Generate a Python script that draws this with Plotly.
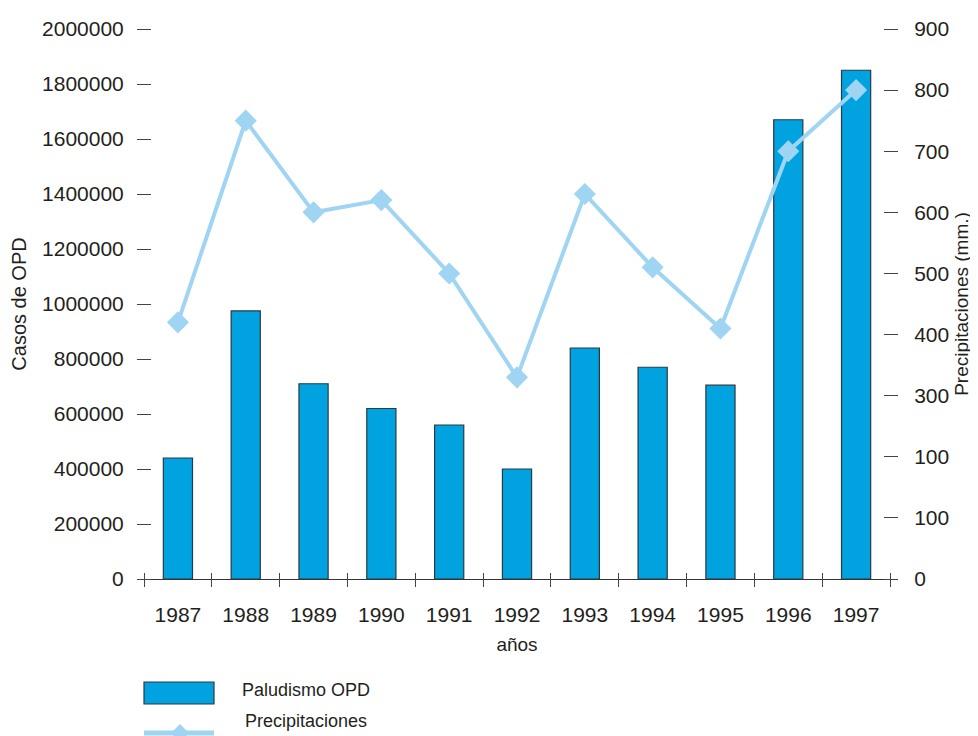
import plotly.graph_objects as go

years = [1987, 1988, 1989, 1990, 1991, 1992, 1993, 1994, 1995, 1996, 1997]
casos_opd = [440000, 975000, 710000, 620000, 560000, 400000, 840000, 770000, 705000, 1670000, 1850000]
precipitaciones = [420, 750, 600, 620, 500, 330, 630, 510, 410, 700, 800]

left_ticks = [0, 200000, 400000, 600000, 800000, 1000000, 1200000, 1400000, 1600000, 1800000, 2000000]
right_tickvals = [0, 100, 200, 300, 400, 500, 600, 700, 800, 900]
right_ticktext = ["0", "100", "100", "300", "400", "500", "600", "700", "800", "900"]
boundaries = [y - 0.5 for y in years] + [years[-1] + 0.5]

FONT = "Liberation Sans, Arial, sans-serif"
TXT = "#231f20"
TICKC = "#444444"
BAR_C = "#00a3e0"
LINE_C = "#9fd4f2"

PW, PH = 746, 550  # plot area size in px

fig = go.Figure()
fig.add_trace(go.Bar(x=years, y=casos_opd, name="Paludismo OPD", width=0.43,
                     marker=dict(color=BAR_C, line=dict(color="#2b3a42", width=1.2)),
                     xaxis="x", yaxis="y"))
fig.add_trace(go.Scatter(x=years, y=precipitaciones, name="Precipitaciones", mode="lines+markers",
                         line=dict(color=LINE_C, width=4),
                         marker=dict(symbol="diamond", size=17, color=LINE_C),
                         xaxis="x", yaxis="y2"))
# invisible trace so the tick-only x overlay axis renders
fig.add_trace(go.Scatter(x=[years[0]], y=[0], xaxis="x2", yaxis="y", mode="markers",
                         marker=dict(opacity=0), hoverinfo="skip", showlegend=False))

xr = [years[0] - 0.5, years[-1] + 0.5]
common = dict(showgrid=False, zeroline=False, automargin=False)
fig.update_layout(
    width=970, height=728,
    margin=dict(l=136, r=88, t=21, b=157),
    paper_bgcolor="white", plot_bgcolor="white",
    font=dict(family=FONT, color=TXT, size=21),
    showlegend=False,
    xaxis=dict(range=xr, tickvals=years, ticktext=[str(y) for y in years], ticks="",
               showline=True, linecolor="#333333", linewidth=1.2,
               ticklabelstandoff=17, tickfont=dict(size=21),
               title=dict(text="años", font=dict(size=19), standoff=12), **common),
    xaxis2=dict(range=xr, overlaying="x", anchor="free", position=7 / PH, tickvals=boundaries,
                ticks="outside", ticklen=14, tickcolor=TICKC, tickwidth=1.2,
                showticklabels=False, showline=False, **common),
    yaxis=dict(range=[0, 2000000], tickvals=left_ticks, tickformat="d", anchor="free",
               position=7 / PW, ticks="outside", ticklen=14, tickcolor=TICKC, tickwidth=1.2,
               ticklabelstandoff=9, showline=False, tickfont=dict(size=21),
               title=dict(text="Casos de OPD", font=dict(size=20), standoff=12), **common),
    yaxis2=dict(range=[0, 900], overlaying="y", side="right", anchor="free", position=1 - 7 / PW,
                tickvals=right_tickvals, ticktext=right_ticktext, ticks="outside", ticklen=14,
                tickcolor=TICKC, tickwidth=1.2, ticklabelstandoff=12, showline=False,
                tickfont=dict(size=21),
                title=dict(text="Precipitaciones (mm.)", font=dict(size=19), standoff=6), **common),
)

# manual legend below the plot
fig.add_shape(type="rect", xref="paper", yref="paper", x0=0.0, x1=70 / PW, y0=-(682 - 579) / PH,
              y1=-(704 - 579) / PH, fillcolor=BAR_C, line=dict(color="#2b3a42", width=1.2))
fig.add_annotation(xref="paper", yref="paper", x=(240 - 144) / PW, y=-(690 - 579) / PH,
                   text="Paludismo OPD", showarrow=False, xanchor="left", yanchor="middle",
                   font=dict(size=18))
fig.add_shape(type="line", xref="paper", yref="paper", x0=0.0, x1=70 / PW, y0=-(733 - 579) / PH,
              y1=-(733 - 579) / PH, line=dict(color=LINE_C, width=5))
fig.add_shape(type="path", xref="paper", yref="paper",
              path="M {a},{b} L {c},{d} L {e},{b} L {c},{f} Z".format(
                  a=(171 - 144) / PW, b=-(733 - 579) / PH, c=(180 - 144) / PW,
                  d=-(724 - 579) / PH, e=(189 - 144) / PW, f=-(742 - 579) / PH),
              fillcolor=LINE_C, line=dict(color=LINE_C, width=0))
fig.add_annotation(xref="paper", yref="paper", x=(243 - 144) / PW, y=-(721 - 579) / PH,
                   text="Precipitaciones", showarrow=False, xanchor="left", yanchor="middle",
                   font=dict(size=18))

fig.write_html("out.html")
